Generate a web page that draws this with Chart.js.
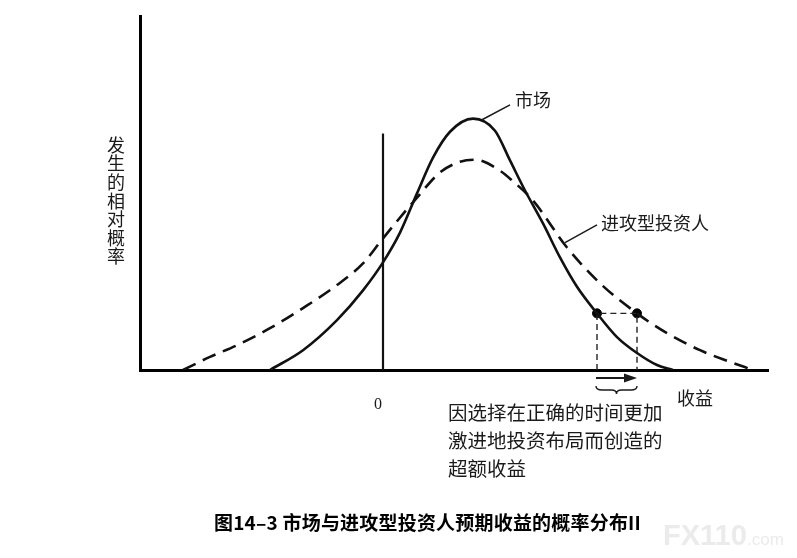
<!DOCTYPE html>
<html>
<head>
<meta charset="utf-8">
<script src="https://cdn.jsdelivr.net/npm/chart.js@4/dist/chart.umd.min.js"></script>
<style>
  html, body { margin: 0; padding: 0; background: #fff; }
  #wrap { width: 797px; height: 558px; position: relative; }
</style>
</head>
<body>
<div id="wrap"><canvas id="grafico"></canvas></div>
<script>
// 收益 (横轴) 与 发生的相对概率 (纵轴)
const marketX = [-11.3, -8, -4.6, -2, 0, 1.7, 3.4, 5, 6.7, 9, 11.2, 12.7, 14.2, 16, 17.7, 19.4, 21.4, 23.4, 25.4, 27.4, 29];
const marketY = [0, 5.6, 14.1, 22.5, 30.4, 38.8, 49.9, 60, 67.3, 71, 67.6, 59.2, 50.7, 41.4, 31.8, 23.5, 16, 9.3, 4.8, 1.4, 0];
const aggressiveX = [-20, -17.3, -14.6, -11.3, -8, -4.6, -2, 0, 3.4, 5.7, 7.7, 9.2, 11.7, 13, 15, 18.4, 21.7, 25.4, 28.4, 31.7, 34.5, 37];
const aggressiveY = [0, 3.7, 7, 11.8, 17.5, 24, 30.1, 37.2, 48.7, 55.8, 58.8, 59.4, 56.3, 53.3, 47.9, 34.6, 24.5, 16, 10.4, 5.6, 2.5, 0];
const zeroLine = [0, 66.8];          // x = 0 处的竖线
const excessX = [21.4, 25.4];        // 同一概率下两条曲线对应的收益
const excessY = 16;

const seriesLabels = ['市场', '进攻型投资人'];
const yTitle = '发生的相对概率';
const xTitle = '收益';
const note = ['因选择在正确的时间更加', '激进地投资布局而创造的', '超额收益'];
const caption = '图14–3 市场与进攻型投资人预期收益的概率分布II';

const pts = (xs, ys) => xs.map((x, i) => ({ x, y: ys[i] }));
const CJK = '"Noto Sans CJK SC", "Noto Sans", sans-serif';

const anotaciones = {
    id: 'anotaciones',
    afterDatasetsDraw(chart) {
        const { ctx, chartArea, scales: { x, y } } = chart;
        const px = v => x.getPixelForValue(v);
        const py = v => y.getPixelForValue(v);
        const base = chartArea.bottom;
        ctx.save();
        ctx.fillStyle = '#1a1a1a';
        ctx.strokeStyle = '#1a1a1a';

        // y 轴竖排标题
        ctx.font = '18px ' + CJK;
        ctx.textAlign = 'center';
        ctx.textBaseline = 'middle';
        [...yTitle].forEach((c, i) => ctx.fillText(c, 116, 145 + i * 18.6));

        // 曲线标签与引线
        ctx.lineWidth = 1.5;
        ctx.beginPath();
        ctx.moveTo(px(9.9), py(70.7)); ctx.lineTo(px(12.7), py(74.9));
        ctx.moveTo(px(18.2), py(36)); ctx.lineTo(px(21.4), py(41));
        ctx.stroke();
        ctx.textAlign = 'left';
        ctx.fillText(seriesLabels[0], px(13.2), py(76.3));
        ctx.fillText(seriesLabels[1], px(21.8), py(41.6));

        // 横轴刻度 0 与标题
        ctx.font = '16px "Liberation Serif", serif';
        ctx.textAlign = 'center';
        ctx.fillText('0', px(0) - 5, base + 35);
        ctx.font = '18px ' + CJK;
        ctx.textAlign = 'left';
        ctx.fillText(xTitle, 677, base + 28);

        // 箭头
        const a = px(excessX[0]) - 1, b = px(excessX[1]);
        const ay = base + 8;
        ctx.lineWidth = 2;
        ctx.beginPath(); ctx.moveTo(a, ay); ctx.lineTo(b - 10, ay); ctx.stroke();
        ctx.beginPath(); ctx.moveTo(b, ay); ctx.lineTo(b - 13, ay - 4.5); ctx.lineTo(b - 13, ay + 4.5); ctx.closePath(); ctx.fill();

        // 大括号
        const m = (a + b) / 2, t = base + 16, d = base + 24;
        ctx.lineWidth = 1.4;
        ctx.beginPath();
        ctx.moveTo(a, t);
        ctx.quadraticCurveTo(a, t + 4, a + 6, t + 4);
        ctx.lineTo(m - 5, t + 4);
        ctx.quadraticCurveTo(m, t + 4, m, d);
        ctx.quadraticCurveTo(m, t + 4, m + 5, t + 4);
        ctx.lineTo(b - 6, t + 4);
        ctx.quadraticCurveTo(b, t + 4, b, t);
        ctx.stroke();

        // 说明文字
        ctx.font = '19.5px ' + CJK;
        note.forEach((l, i) => ctx.fillText(l, 448, base + 43 + i * 28));

        // 图题
        ctx.font = 'bold 19px ' + CJK;
        ctx.fillStyle = '#000';
        ctx.letterSpacing = '0.2px';
        ctx.fillText(caption, 214, 523);
        ctx.letterSpacing = '0px';

        // 水印
        ctx.fillStyle = '#ebebeb';
        ctx.textBaseline = 'alphabetic';
        ctx.font = 'bold 29px "Liberation Sans", sans-serif';
        ctx.fillText('FX110', 663, 545);
        ctx.font = '17px "Liberation Sans", sans-serif';
        ctx.fillText('.com', 747, 545);
        ctx.restore();
    }
};

new Chart(document.getElementById('grafico'), {
    type: 'scatter',
    data: {
        datasets: [
            { label: seriesLabels[0], data: pts(marketX, marketY), showLine: true, borderColor: '#111', borderWidth: 2.6, pointRadius: 0, cubicInterpolationMode: 'monotone' },
            { label: seriesLabels[1], data: pts(aggressiveX, aggressiveY), showLine: true, borderColor: '#111', borderWidth: 2.6, borderDash: [14, 8], pointRadius: 0, cubicInterpolationMode: 'monotone' },
            { label: 'zero', data: pts([0, 0], zeroLine), showLine: true, borderColor: '#111', borderWidth: 2.2, pointRadius: 0 },
            { label: 'box', data: pts([excessX[0], excessX[0], excessX[1], excessX[1]], [0, excessY, excessY, 0]), showLine: true, borderColor: '#222', borderWidth: 1.4, borderDash: [6, 4], pointRadius: 0 },
            { label: 'marks', data: pts(excessX, [excessY, excessY]), showLine: false, pointRadius: 4.5, pointBackgroundColor: '#000', pointBorderColor: '#000' }
        ]
    },
    options: {
        responsive: true,
        maintainAspectRatio: false,
        animation: false,
        layout: { padding: { left: 140, right: 29, top: 16, bottom: 188 } },
        plugins: { legend: { display: false }, tooltip: { enabled: false } },
        scales: {
            x: { type: 'linear', min: -24.3, max: 38.5, grid: { display: false, drawTicks: false }, ticks: { display: false }, border: { display: true, color: '#000', width: 3 } },
            y: { min: 0, max: 100, grid: { display: false, drawTicks: false }, ticks: { display: false }, border: { display: true, color: '#000', width: 3 } }
        }
    },
    plugins: [anotaciones]
});
</script>
</body>
</html>
